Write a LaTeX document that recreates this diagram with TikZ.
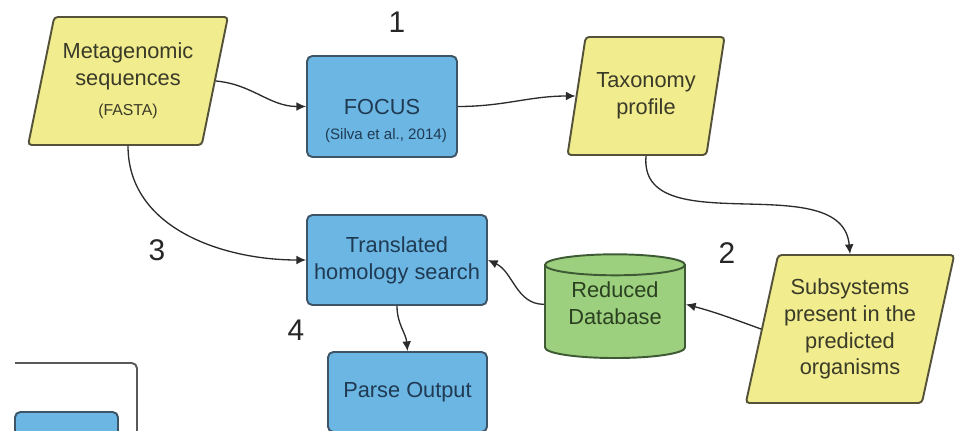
\documentclass[tikz,border=0pt]{standalone}
\usepackage{fontspec}
\setmainfont{Liberation Sans}
\usetikzlibrary{shapes.geometric,arrows.meta}
\definecolor{ioyellow}{HTML}{F1EC8E}
\definecolor{ioline}{HTML}{55523A}
\definecolor{iotext}{HTML}{3A3A28}
\definecolor{procblue}{HTML}{6CB6E4}
\definecolor{procline}{HTML}{3D5566}
\definecolor{proctext}{HTML}{1F3A52}
\definecolor{dbgreen}{HTML}{9DD07E}
\definecolor{dbline}{HTML}{3E5A35}
\definecolor{dbtext}{HTML}{2A4020}
\definecolor{wire}{HTML}{2B2B2B}
\begin{document}
\begin{tikzpicture}[x=0.02cm,y=-0.02cm,>={Latex[length=5.5pt,width=5pt]}]
	\useasboundingbox (0,0) rectangle (956,430);
	\clip (0,0) rectangle (956,430);
	\tikzstyle{io} = [trapezium, trapezium left angle=74, trapezium right angle=106, trapezium stretches=true, draw=ioline, fill=ioyellow, line width=1.1pt, rounded corners=2pt, text=iotext, align=center, font=\fontsize{12.4}{15.3}\selectfont]
	\tikzstyle{proc} = [rectangle, draw=procline, fill=procblue, line width=1.1pt, rounded corners=3pt, text=proctext, align=center, font=\fontsize{12.4}{15.3}\selectfont]
	\tikzstyle{store} = [cylinder, shape border rotate=90, aspect=0.2, draw=dbline, fill=dbgreen, line width=1.1pt, text=dbtext, align=center, font=\fontsize{12.4}{15.3}\selectfont]
	\tikzstyle{num} = [text=black!85, font=\fontsize{17}{20}\selectfont]
	\tikzstyle{wire} = [draw=wire, line width=0.75pt, ->]

	% cut-off frame in the lower left corner
	\draw [gray!70!black, line width=1.1pt, rounded corners=3pt] (15,363) -- (137,363) -- (137,460);
	\draw [procline, fill=procblue, line width=1.1pt, rounded corners=3pt] (15,460) -- (15,412) -- (118,412) -- (118,460);
	\fill [white] (0,405) rectangle (14,430);

	\node [io, minimum width=4cm, minimum height=2.56cm] (meta) at (128,81) {Metagenomic\\sequences\\[2pt]{\fontsize{9}{11}\selectfont (FASTA)}};
	\node [proc, minimum width=3cm, minimum height=2.02cm] (focus) at (382,106.5) {FOCUS};
	\node [text=proctext, font=\fontsize{8.6}{10}\selectfont] (focuscite) at (386,136) {(Silva et al., 2014)};
	\node [io, minimum width=3.16cm, minimum height=2.36cm] (tax) at (646,96) {Taxonomy\\profile};
	\node [io, minimum width=4.12cm, minimum height=2.96cm] (subs) at (850,329) {Subsystems\\present in the\\predicted\\organisms};
	\node [store, minimum width=2.8cm, minimum height=1.9cm] (rdb) at (615,314) {Reduced\\Database\rule[-12pt]{0pt}{0pt}};
	\node [proc, minimum width=3.6cm, minimum height=1.8cm] (trans) at (397,260) {Translated\\homology search};
	\node [proc, minimum width=3.18cm, minimum height=1.6cm] (parse) at (407.5,392) {Parse Output};

	\node [num] (n1) at (397,22) {1};
	\node [num] (n2) at (727,253) {2};
	\node [num] (n3) at (157,250) {3};
	\node [num] (n4) at (296,330) {4};

	\draw [wire] (meta.east) to[out=-5, in=180] (focus.west);
	\draw [wire] (focus.east) to[out=0, in=180] (tax.west);
	\draw [wire] (tax.south) to[out=-95, in=95] (subs.north);
	\draw [wire] (subs.west) to[out=160, in=-15] ([yshift=5.5pt]rdb.east);
	\draw [wire] ([yshift=5.5pt]rdb.west) to[out=180, in=-25] (trans.east);
	\draw [wire] (meta.south) to[out=-90, in=180] (trans.west);
	\draw [wire] (trans.south) to[out=-90, in=95] (parse.north);
\end{tikzpicture}
\end{document}
